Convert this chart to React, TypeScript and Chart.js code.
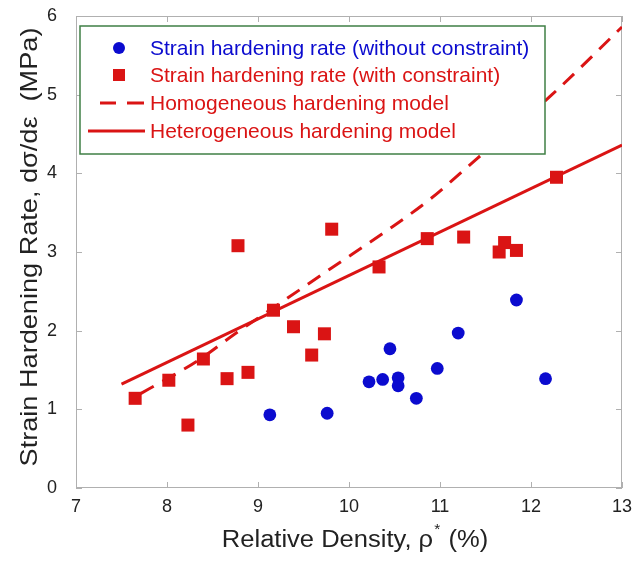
import React, { useEffect, useRef } from "react";
import { Chart, registerables } from "chart.js";

Chart.register(...registerables);

// ---- data ----
const blueX = [9.13, 9.76, 10.22, 10.37, 10.45, 10.54, 10.54, 10.74, 10.97, 11.2, 11.84, 12.16];
const blueY = [0.93, 0.95, 1.35, 1.38, 1.77, 1.4, 1.3, 1.14, 1.52, 1.97, 2.39, 1.39];

const redX = [7.65, 8.02, 8.23, 8.4, 8.66, 8.78, 8.89, 9.17, 9.39, 9.59, 9.73, 9.81, 10.33, 10.86, 11.26, 11.65, 11.71, 11.84, 12.28];
const redY = [1.14, 1.37, 0.8, 1.64, 1.39, 3.08, 1.47, 2.26, 2.05, 1.69, 1.96, 3.29, 2.81, 3.17, 3.19, 3.0, 3.12, 3.02, 3.95];

const homoX = [7.71, 8.34, 8.76, 9.32, 9.8, 10.44, 10.9, 11.41, 12.23, 13.0];
const homoY = [1.2, 1.62, 1.97, 2.41, 2.79, 3.29, 3.68, 4.19, 5.0, 5.86];

const heteroX = [7.5, 13.0];
const heteroY = [1.32, 4.36];

const xTicks = [7, 8, 9, 10, 11, 12, 13];
const yTicks = [0, 1, 2, 3, 4, 5, 6];

const legendLabels = [
  "Strain hardening rate (without constraint)",
  "Strain hardening rate (with constraint)",
  "Homogeneous hardening model",
  "Heterogeneous hardening model",
];
const xTitle = ["Relative Density, \u03c1", "*", " (%)"];
const yTitle = "Strain Hardening Rate, d\u03c3/d\u03b5  (MPa)";

const BLUE = "#0b0bcf";
const RED = "#da1414";
const FONT = '"Liberation Sans", Arial, Helvetica, sans-serif';

const zip = (xs: number[], ys: number[]) => xs.map((x, i) => ({ x, y: ys[i] }));

const noPad = (s: any) => {
  s.paddingTop = 0;
  s.paddingBottom = 0;
  s.paddingLeft = 0;
  s.paddingRight = 0;
};

const framePlugin = {
  id: "frame",
  beforeDatasetsDraw(chart: any) {
    const { ctx, chartArea: a, scales } = chart;
    ctx.save();
    ctx.strokeStyle = "#b0b0b0";
    ctx.lineWidth = 1;
    ctx.strokeRect(a.left + 0.5, a.top + 0.5, a.right - a.left - 1, a.bottom - a.top - 1);
    const t = 6;
    ctx.beginPath();
    xTicks.forEach((v) => {
      const px = Math.round(scales.x.getPixelForValue(v)) + 0.5;
      ctx.moveTo(px, a.bottom);
      ctx.lineTo(px, a.bottom - t);
      ctx.moveTo(px, a.top);
      ctx.lineTo(px, a.top + t);
    });
    yTicks.forEach((v) => {
      const py = Math.round(scales.y.getPixelForValue(v)) + 0.5;
      ctx.moveTo(a.left, py);
      ctx.lineTo(a.left + t, py);
      ctx.moveTo(a.right, py);
      ctx.lineTo(a.right - t, py);
    });
    ctx.stroke();
    ctx.restore();
  },
  afterDraw(chart: any) {
    const { ctx } = chart;
    ctx.save();
    // x axis title (slightly stretched horizontally like the reference)
    ctx.fillStyle = "#222";
    ctx.textBaseline = "middle";
    ctx.textAlign = "left";
    const sx = 1.11;
    ctx.font = `23px ${FONT}`;
    const w0 = ctx.measureText(xTitle[0]).width;
    ctx.font = `14px ${FONT}`;
    const w1 = ctx.measureText(xTitle[1]).width;
    ctx.font = `23px ${FONT}`;
    const w2 = ctx.measureText(xTitle[2]).width;
    const total = (w0 + w1 + 2 + w2) * sx;
    const cx = 355;
    ctx.save();
    ctx.translate(cx - total / 2, 541);
    ctx.scale(sx, 1);
    ctx.fillText(xTitle[0], 0, 0);
    ctx.font = `14px ${FONT}`;
    ctx.fillText(xTitle[1], w0 + 1, -11);
    ctx.font = `23px ${FONT}`;
    ctx.fillText(xTitle[2], w0 + w1 + 2, 0);
    ctx.restore();

    // y axis title
    ctx.save();
    ctx.translate(30, 247);
    ctx.rotate(-Math.PI / 2);
    ctx.scale(1.13, 1);
    ctx.textAlign = "center";
    ctx.font = `24px ${FONT}`;
    ctx.fillText(yTitle, 0, 0);
    ctx.restore();

    // legend box
    const L = 80, T = 26, R = 545, B = 154;
    ctx.fillStyle = "#fff";
    ctx.fillRect(L, T, R - L, B - T);
    ctx.strokeStyle = "#3f7f45";
    ctx.lineWidth = 1.5;
    ctx.strokeRect(L, T, R - L, B - T);
    const rows = [48, 75, 103, 131];
    const colors = [BLUE, RED, RED, RED];
    ctx.font = `21px ${FONT}`;
    ctx.textAlign = "left";
    ctx.textBaseline = "middle";
    legendLabels.forEach((lab, i) => {
      ctx.fillStyle = colors[i];
      ctx.fillText(lab, 150, rows[i] + 1);
    });
    const mx = 119;
    ctx.fillStyle = BLUE;
    ctx.beginPath();
    ctx.arc(mx, rows[0], 6, 0, Math.PI * 2);
    ctx.fill();
    ctx.fillStyle = RED;
    ctx.fillRect(mx - 6, rows[1] - 6, 12, 12);
    ctx.strokeStyle = RED;
    ctx.lineWidth = 3;
    ctx.beginPath();
    ctx.moveTo(100, rows[2]);
    ctx.lineTo(116, rows[2]);
    ctx.moveTo(127, rows[2]);
    ctx.lineTo(144, rows[2]);
    ctx.moveTo(88, rows[3]);
    ctx.lineTo(145, rows[3]);
    ctx.stroke();
    ctx.restore();
  },
};

export default function App() {
  const ref = useRef<HTMLCanvasElement | null>(null);
  useEffect(() => {
    document.body.style.margin = "0";
    const canvas = ref.current;
    if (!canvas) return;
    const chart = new Chart(canvas, {
      type: "scatter",
      data: {
        datasets: [
          {
            label: legendLabels[0],
            data: zip(blueX, blueY),
            pointStyle: "circle",
            pointRadius: 6.4,
            backgroundColor: BLUE,
            borderColor: BLUE,
            borderWidth: 0,
            showLine: false,
          },
          {
            label: legendLabels[1],
            data: zip(redX, redY),
            pointStyle: "rect",
            pointRadius: 9.2,
            backgroundColor: RED,
            borderColor: RED,
            borderWidth: 0,
            showLine: false,
          },
          {
            label: legendLabels[2],
            data: zip(homoX, homoY),
            showLine: true,
            pointRadius: 0,
            borderColor: RED,
            borderWidth: 3,
            borderDash: [15, 10],
            cubicInterpolationMode: "monotone",
            fill: false,
          } as any,
          {
            label: legendLabels[3],
            data: zip(heteroX, heteroY),
            showLine: true,
            pointRadius: 0,
            borderColor: RED,
            borderWidth: 3,
            fill: false,
          },
        ],
      },
      options: {
        responsive: false,
        animation: false,
        events: [],
        layout: { padding: { top: 16, right: 11, left: 0, bottom: 0 } },
        plugins: { legend: { display: false }, tooltip: { enabled: false } },
        scales: {
          x: {
            type: "linear",
            min: 7,
            max: 13,
            grid: { display: false, drawTicks: false },
            border: { display: false },
            ticks: {
              stepSize: 1,
              padding: 8,
              color: "#222",
              font: { size: 18, family: FONT },
            },
            afterFit: (s: any) => {
              s.height = 76;
              noPad(s);
            },
          },
          y: {
            type: "linear",
            min: 0,
            max: 6,
            grid: { display: false, drawTicks: false },
            border: { display: false },
            ticks: {
              stepSize: 1,
              padding: 19,
              color: "#222",
              font: { size: 18, family: FONT },
            },
            afterFit: (s: any) => {
              s.width = 76;
              noPad(s);
            },
          },
        },
      },
      plugins: [framePlugin],
    });
    return () => chart.destroy();
  }, []);
  return (
    <div style={{ width: 633, height: 564, position: "relative", background: "#fff" }}>
      <canvas ref={ref} width={633} height={564} />
    </div>
  );
}
